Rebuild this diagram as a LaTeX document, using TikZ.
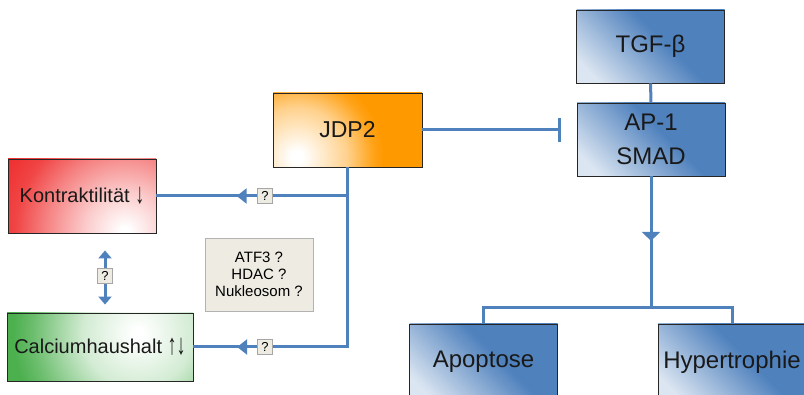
\documentclass[tikz,border=0pt]{standalone}
\usepackage{fontspec}
\setmainfont{Liberation Sans}
\usetikzlibrary{arrows.meta,decorations.markings,shadings}

\definecolor{bl1}{HTML}{DCE6F2}
\definecolor{bl2}{HTML}{4F81BD}
\definecolor{ln}{HTML}{4F81BD}
\definecolor{orng}{HTML}{FF9900}
\definecolor{rd}{HTML}{EF3030}
\definecolor{gr}{HTML}{4DB04F}
\definecolor{beige}{HTML}{EEECE2}
\pgfdeclarehorizontalshading{bluesh}{100bp}{color(0bp)=(bl1); color(22bp)=(bl1); color(56bp)=(bl2); color(100bp)=(bl2)}
% radial shadings: circle radius 200pt, so 1bp = 8pt
\pgfdeclareradialshading{orsh}{\pgfpointorigin}{color(0bp)=(white); color(0.75bp)=(white); color(6.25bp)=(orng!45); color(9.5bp)=(orng!90); color(10.8bp)=(orng); color(50bp)=(orng)}
\pgfdeclareradialshading{rdsh}{\pgfpointorigin}{color(0bp)=(white); color(0.6bp)=(white); color(5bp)=(rd!25); color(9.9bp)=(rd!60); color(13.75bp)=(rd!90); color(16.9bp)=(rd); color(50bp)=(rd)}
\pgfdeclareradialshading{grsh}{\pgfpointorigin}{color(0bp)=(white); color(0.6bp)=(white); color(6.9bp)=(gr!25); color(9.1bp)=(gr!45); color(13.1bp)=(gr!82); color(15.6bp)=(gr); color(50bp)=(gr)}

\newcommand{\darr}{\raisebox{-1.5pt}{\scalebox{0.9}[1.45]{↓}}}
\newcommand{\uarr}{\raisebox{-1.5pt}{\scalebox{0.9}[1.45]{↑}}}

\tikzset{
 box/.style={draw=black!85, line width=0.9pt, inner sep=0pt, align=center, text=black!90},
 bluebox/.style={box, shade, shading=bluesh, shading angle=45, minimum width=148pt, minimum height=73pt, font=\fontsize{24}{34}\selectfont},
 conn/.style={draw=ln, line width=3pt},
 midarr/.style={conn, postaction={decorate}, decoration={markings, mark=at position #1 with {\arrow[ln]{Triangle[width=15pt,length=10pt]}}}},
 downarr/.style={conn, postaction={decorate}, decoration={markings, mark=at position #1 with {\arrow[ln]{Triangle[width=18pt,length=9pt]}}}},
 qbox/.style={draw=gray!70, fill=beige, line width=0.6pt, minimum size=15pt, inner sep=0pt, font=\fontsize{13}{13}\selectfont},
 dtip/.style={conn, {Triangle[width=13pt,length=8pt]}-{Triangle[width=13pt,length=8pt]}},
}

\begin{document}
\begin{tikzpicture}[x=1pt,y=-1pt]
\useasboundingbox (0,0) rectangle (804,395);
\clip (0,0) rectangle (804,395);

% blue boxes
\node[bluebox] (tgf) at (650.5,46.5) {TGF-β};
\node[bluebox] (ap1) at (651,139.5) {AP-1\\SMAD};
\node[bluebox, minimum height=76pt] (apo) at (483.5,362) {Apoptose};
\node[bluebox, minimum height=76pt] (hyp) at (732,362) {Hypertrophie};

% JDP2
\node[box, fill=orng, minimum width=149pt, minimum height=74pt, font=\fontsize{23}{28}\selectfont,
  path picture={\shade[shading=orsh] ([xshift=24pt,yshift=10pt]path picture bounding box.south west) circle (200pt);}] (jdp) at (347.5,130) {JDP2};

% Kontraktilitaet
\node[box, fill=rd, minimum width=148pt, minimum height=74pt, font=\fontsize{20}{24}\selectfont,
  path picture={\shade[shading=rdsh] ([xshift=117pt,yshift=1pt]path picture bounding box.south west) circle (200pt);}] (kon) at (82,196) {Kontraktilität \darr};

% Calciumhaushalt
\node[box, fill=gr, minimum width=186pt, minimum height=68pt, font=\fontsize{20}{24}\selectfont,
  path picture={\shade[shading=grsh] ([xshift=131pt,yshift=48pt]path picture bounding box.south west) circle (200pt);}] (cal) at (100,347) {Calciumhaushalt \uarr\darr};

% ATF3 box
\node[draw=gray!60, fill=beige, line width=0.8pt, minimum width=108pt, minimum height=73pt, align=center, inner sep=0pt,
  font=\fontsize{15}{17}\selectfont] (atf) at (259,274.5) {ATF3 ?\\HDAC ?\\Nukleosom ?};

% connectors
\coordinate (inh) at (561,130);
\coordinate (br) at (651,308);
\coordinate (k) at (jdp.south |- kon.east);

\draw[conn] (tgf) -- (ap1);
\draw[conn, -{Bar[width=24pt, line width=3pt]}] (jdp.east) -- (inh);
\draw[downarr=0.49] (ap1.south) -- (br);
\draw[conn] (apo.north) |- (br) -| (hyp.north);

\draw[midarr=0.869] (jdp.south) |- (cal.east);
\draw[midarr=0.58] (k) -- (kon.east);
\draw[dtip, shorten <=17pt, shorten >=8pt] ([xshift=23pt]kon.south) -- ([xshift=23pt]kon.south |- cal.north);

% question marks
\node[qbox] (q1) at (265,196) {?};
\node[qbox] (q2) at (265,347) {?};
\node[qbox] (q3) at (105,276) {?};
\end{tikzpicture}
\end{document}
